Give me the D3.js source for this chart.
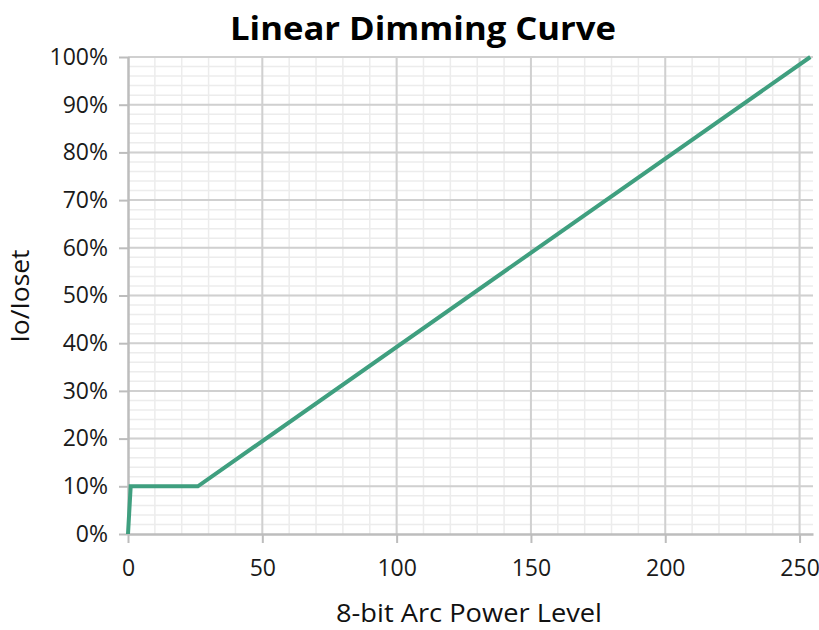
<!DOCTYPE html>
<html>
<head>
<meta charset="utf-8">
<script src="https://cdn.jsdelivr.net/npm/d3@7"></script>
<style>
  body { margin: 0; background: #fff; }
  text { font-family: "Open Sans", "Noto Sans", sans-serif; }
</style>
</head>
<body>
<div id="chart"></div>
<script>
// curve points (arc level, % of Ioset)
const arcLevels = [0, 1, 26, 254];
const outputPct = [0, 10, 10, 100];

const xTicks = [0, 50, 100, 150, 200, 250];
const yTicks = [0, 10, 20, 30, 40, 50, 60, 70, 80, 90, 100];

const width = 819, height = 630;
const margin = {top: 57, right: 6, bottom: 96, left: 128};

const svg = d3.select("#chart")
  .append("svg")
    .attr("width", width)
    .attr("height", height);

const x = d3.scaleLinear()
  .domain([0, 255])
  .range([margin.left, width - margin.right]);

const y = d3.scaleLinear()
  .domain([0, 100])
  .range([height - margin.bottom, margin.top]);

// minor grid: every 10 on x, every 2% on y
svg.append("g")
  .selectAll("line")
  .data(d3.range(10, 256, 10))
  .join("line")
    .attr("x1", d => x(d)).attr("x2", d => x(d))
    .attr("y1", y(0)).attr("y2", y(100))
    .style("stroke", "#ececec")
    .style("stroke-width", 1.5);

svg.append("g")
  .selectAll("line")
  .data(d3.range(2, 101, 2))
  .join("line")
    .attr("x1", x(0)).attr("x2", x(255))
    .attr("y1", d => y(d)).attr("y2", d => y(d))
    .style("stroke", "#ececec")
    .style("stroke-width", 1.5);

// major grid
svg.append("g")
  .selectAll("line")
  .data(xTicks.slice(1))
  .join("line")
    .attr("x1", d => x(d)).attr("x2", d => x(d))
    .attr("y1", y(0)).attr("y2", y(100))
    .style("stroke", "#d0d0d0")
    .style("stroke-width", 2);

svg.append("g")
  .selectAll("line")
  .data(yTicks.slice(1))
  .join("line")
    .attr("x1", x(0)).attr("x2", x(255))
    .attr("y1", d => y(d)).attr("y2", d => y(d))
    .style("stroke", "#d0d0d0")
    .style("stroke-width", 2);

// axes
const xAxis = svg.append("g")
  .attr("transform", `translate(0, ${y(0)})`)
  .call(d3.axisBottom(x).tickValues(xTicks).tickSize(9).tickPadding(17).tickSizeOuter(0));

const yAxis = svg.append("g")
  .attr("transform", `translate(${x(0)}, 0)`)
  .call(d3.axisLeft(y).tickValues(yTicks).tickFormat(d => d + "%").tickSize(9).tickPadding(11).tickSizeOuter(0));

[xAxis, yAxis].forEach(g => {
  g.select(".domain").style("stroke", "#bdbdbd").style("stroke-width", 2.5);
  g.selectAll(".tick line").style("stroke", "#bdbdbd").style("stroke-width", 2);
  g.selectAll(".tick text")
    .style("font-size", "23px")
    .style("fill", "#1a1a1a");
});
yAxis.select(".domain").attr("d", `M0.5,${y(0)}V${y(100)}`);

// the curve
const line = d3.line()
  .x((d, i) => x(arcLevels[i]))
  .y(d => y(d));

svg.append("path")
  .datum(outputPct)
  .attr("d", line)
  .style("fill", "none")
  .style("stroke", "#3f9f7f")
  .style("stroke-width", 4)
  .style("stroke-linejoin", "miter");

// titles
svg.append("text")
  .attr("x", 423).attr("y", 40)
  .attr("text-anchor", "middle")
  .attr("textLength", 386)
  .attr("lengthAdjust", "spacingAndGlyphs")
  .style("font-size", "32px")
  .style("font-weight", "bold")
  .style("fill", "#000")
  .text("Linear Dimming Curve");

svg.append("text")
  .attr("x", 469).attr("y", 622)
  .attr("text-anchor", "middle")
  .attr("textLength", 266)
  .attr("lengthAdjust", "spacingAndGlyphs")
  .style("font-size", "26px")
  .style("fill", "#111")
  .text("8-bit Arc Power Level");

svg.append("text")
  .attr("transform", "translate(29, 296) rotate(-90)")
  .attr("text-anchor", "middle")
  .attr("textLength", 93)
  .attr("lengthAdjust", "spacingAndGlyphs")
  .style("font-size", "25px")
  .style("fill", "#111")
  .text("Io/Ioset");
</script>
</body>
</html>
